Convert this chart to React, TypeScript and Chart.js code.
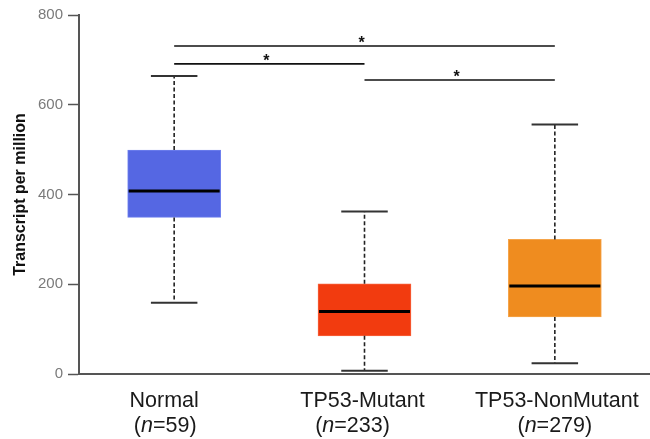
import React, { useEffect, useRef } from "react";
import { Chart, registerables } from "chart.js";

Chart.register(...registerables);

const categories = ["Normal", "TP53-Mutant", "TP53-NonMutant"];
const sampleSizes = [59, 233, 279];
const whiskerLow = [159, 7, 24];
const q1 = [349, 85, 127];
const median = [408, 139, 196];
const q3 = [499, 201, 300];
const whiskerHigh = [664, 362, 556];
const boxColors = ["#5567e3", "#f23b0f", "#ef8c1f"];
const boxEdgeColors = ["#6f80ee", "#f7623c", "#f5a44a"];
const yTickValues = [0, 200, 400, 600, 800];
const sigFrom = [0, 0, 1];
const sigTo = [2, 1, 2];
const sigLevel = [731, 691, 655];
const sigLabel = ["*", "*", "*"];

const FONT = "'Liberation Sans', Arial, sans-serif";
// small horizontal nudges of the two label lines, as in the reference
const LINE1_SHIFT = [-10, -2, 2];
const LINE2_SHIFT = [-9, -12, 0];

const boxPlugin = {
  id: "boxExtras",
  afterDatasetsDraw(chart: any) {
    const { ctx, scales } = chart;
    const x = scales.x;
    const y = scales.y;
    const meta = chart.getDatasetMeta(0);
    const seg = (x1: number, y1: number, x2: number, y2: number) => {
      ctx.beginPath();
      ctx.moveTo(x1, y1);
      ctx.lineTo(x2, y2);
      ctx.stroke();
    };
    ctx.save();
    categories.forEach((_, i) => {
      const cx = x.getPixelForValue(i);
      const bar = meta.data[i];
      const half = bar.width / 2;
      const capHalf = half / 2;
      ctx.strokeStyle = "#222";
      ctx.lineWidth = 1.6;
      ctx.setLineDash([4, 2.5]);
      seg(cx, y.getPixelForValue(q3[i]), cx, y.getPixelForValue(whiskerHigh[i]));
      seg(cx, y.getPixelForValue(q1[i]), cx, y.getPixelForValue(whiskerLow[i]));
      ctx.setLineDash([]);
      ctx.lineWidth = 2;
      ctx.strokeStyle = "#333";
      const yh = y.getPixelForValue(whiskerHigh[i]);
      const yl = y.getPixelForValue(whiskerLow[i]);
      seg(cx - capHalf, yh, cx + capHalf, yh);
      seg(cx - capHalf, yl, cx + capHalf, yl);
      ctx.lineWidth = 3;
      ctx.strokeStyle = "#000";
      const ym = y.getPixelForValue(median[i]);
      seg(cx - half + 1, ym, cx + half - 1, ym);
    });
    ctx.strokeStyle = "#111";
    ctx.lineWidth = 1.6;
    ctx.fillStyle = "#111";
    ctx.font = `bold 16px ${FONT}`;
    ctx.textAlign = "center";
    ctx.textBaseline = "alphabetic";
    sigLevel.forEach((lvl, k) => {
      const x1 = x.getPixelForValue(sigFrom[k]);
      const x2 = x.getPixelForValue(sigTo[k]);
      const yy = y.getPixelForValue(lvl);
      seg(x1, yy, x2, yy);
      ctx.fillText(sigLabel[k], (x1 + x2) / 2 - 3, yy + 2);
    });
    const bottom = chart.chartArea.bottom;
    ctx.fillStyle = "#1a1a1a";
    categories.forEach((name, i) => {
      const cx = x.getPixelForValue(i);
      ctx.font = `21.5px ${FONT}`;
      ctx.textAlign = "center";
      ctx.fillText(name, cx + LINE1_SHIFT[i], bottom + 33);
      const parts = [
        { t: "(", f: `21.5px ${FONT}` },
        { t: "n", f: `italic 21.5px ${FONT}` },
        { t: `=${sampleSizes[i]})`, f: `21.5px ${FONT}` },
      ];
      let total = 0;
      parts.forEach((p) => {
        ctx.font = p.f;
        total += ctx.measureText(p.t).width;
      });
      let px = cx + LINE2_SHIFT[i] - total / 2;
      ctx.textAlign = "left";
      parts.forEach((p) => {
        ctx.font = p.f;
        ctx.fillText(p.t, px, bottom + 58);
        px += ctx.measureText(p.t).width;
      });
    });
    ctx.restore();
  },
};

export default function App() {
  const ref = useRef<HTMLCanvasElement | null>(null);
  useEffect(() => {
    if (!ref.current) return;
    const chart = new Chart(ref.current, {
      type: "bar",
      data: {
        labels: categories,
        datasets: [
          {
            data: q1.map((v, i) => [v, q3[i]]) as any,
            backgroundColor: boxColors,
            borderColor: boxEdgeColors,
            borderWidth: 1,
            borderSkipped: false,
            barThickness: 93,
          },
        ],
      },
      options: {
        animation: false,
        responsive: true,
        maintainAspectRatio: false,
        layout: { padding: { top: 15, right: 0, bottom: 65, left: 0 } },
        plugins: { legend: { display: false }, tooltip: { enabled: false } },
        scales: {
          x: {
            type: "category",
            offset: true,
            grid: { display: false, drawTicks: false, tickLength: 0 },
            ticks: { display: false },
            border: { display: true, color: "#555", width: 2 },
          },
          y: {
            min: 0,
            max: 800,
            afterBuildTicks: (s: any) => {
              s.ticks = yTickValues.map((v) => ({ value: v }));
            },
            afterFit: (s: any) => {
              s.width = 79;
            },
            ticks: {
              color: "#7a7a7a",
              font: { family: FONT, size: 15 },
              padding: 5,
            },
            grid: {
              drawOnChartArea: false,
              drawTicks: true,
              tickLength: 11,
              tickColor: "#555",
              tickWidth: 1.5,
            },
            border: { display: true, color: "#555", width: 2 },
            title: {
              display: true,
              text: "Transcript per million",
              color: "#111",
              font: { family: FONT, size: 16, weight: "bold" },
              padding: { top: 11, bottom: 0 },
            },
          },
        },
      },
      plugins: [boxPlugin],
    });
    return () => chart.destroy();
  }, []);
  return (
    <div style={{ position: "fixed", left: 0, top: 0, width: 650, height: 439, background: "#fff" }}>
      <canvas ref={ref} />
    </div>
  );
}
